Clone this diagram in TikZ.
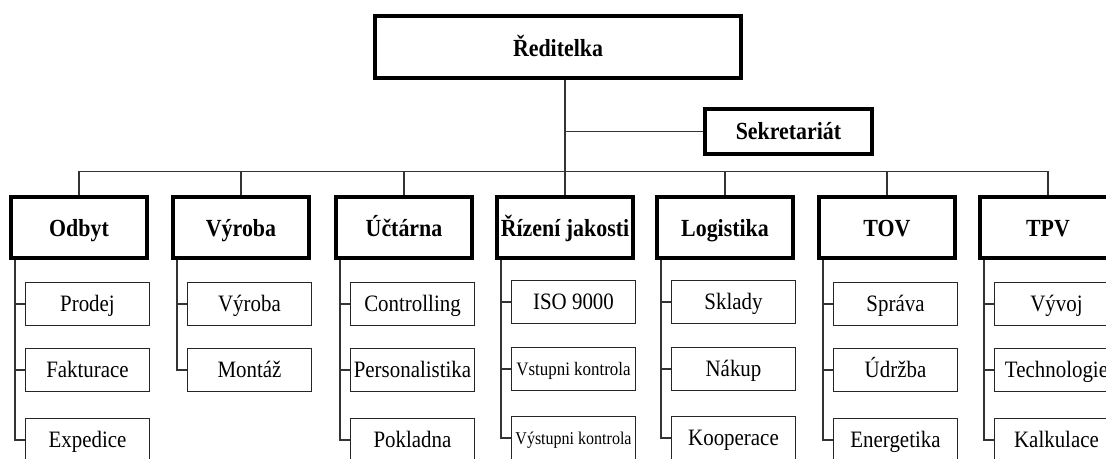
\documentclass[tikz,border=0pt]{standalone}
\usepackage{fontspec}
\setmainfont[FakeStretch=0.89]{Liberation Serif}
\usetikzlibrary{calc}
\begin{document}
\begin{tikzpicture}[x=1pt,y=-1pt,
  conn/.style={draw=black!80,line width=1.4pt},
  headbox/.style={draw=black,line width=4pt,fill=white,rectangle,inner sep=0pt,
    minimum width=136pt,minimum height=61pt,text height=17pt,text depth=0pt,
    font=\fontsize{24.6}{26}\selectfont\bfseries},
  subbox/.style={draw=black!85,line width=1.3pt,fill=white,rectangle,inner sep=0pt,
    minimum width=123.7pt,minimum height=42.7pt,text height=14pt,text depth=0pt,
    font=\fontsize{23.5}{25}\selectfont}]
\clip (0,0) rectangle (1106,458);
\fill[white] (0,0) rectangle (1106,458);

% top
\node[headbox,minimum width=366pt,minimum height=62pt,text height=19pt] (red) at (558,47) {Ředitelka};
\node[headbox,minimum width=167pt,minimum height=45pt,text height=15pt] (sekr) at (788.5,131.5) {Sekretariát};

% departments
\node[headbox] (odbyt) at (79,227.5) {Odbyt};
\node[headbox] (vyroba) at (241,227.5) {Výroba};
\node[headbox] (uctarna) at (404,227.5) {Účtárna};
\node[headbox] (rizeni) at (565,227.5) {Řízení jakosti};
\node[headbox] (logist) at (725,227.5) {Logistika};
\node[headbox] (tov) at (887,227.5) {TOV};
\node[headbox] (tpv) at (1048,227.5) {TPV};

% sub units
\node[subbox] (odbyt1) at (87.5,304) {Prodej};
\node[subbox] (odbyt2) at (87.5,370) {Fakturace};
\node[subbox] (odbyt3) at (87.5,440) {Expedice};

\node[subbox] (vyroba1) at (249.5,304) {Výroba};
\node[subbox] (vyroba2) at (249.5,370) {Montáž};

\node[subbox] (uctarna1) at (412.5,304) {Controlling};
\node[subbox] (uctarna2) at (412.5,370) {Personalistika};
\node[subbox] (uctarna3) at (412.5,440) {Pokladna};

\node[subbox] (rizeni1) at (573.5,302) {ISO 9000};
\node[subbox,font=\fontsize{19}{21}\selectfont,text height=12pt] (rizeni2) at (573.5,369) {Vstupni kontrola};
\node[subbox,font=\fontsize{18}{20}\selectfont,text height=12pt] (rizeni3) at (573.5,438) {Výstupni kontrola};

\node[subbox] (logist1) at (733.5,302) {Sklady};
\node[subbox] (logist2) at (733.5,369) {Nákup};
\node[subbox] (logist3) at (733.5,438) {Kooperace};

\node[subbox] (tov1) at (895.5,304) {Správa};
\node[subbox] (tov2) at (895.5,370) {Údržba};
\node[subbox] (tov3) at (895.5,440) {Energetika};

\node[subbox] (tpv1) at (1056.5,304) {Vývoj};
\node[subbox] (tpv2) at (1056.5,370) {Technologie};
\node[subbox] (tpv3) at (1056.5,440) {Kalkulace};

% top connectors
\coordinate (bus) at (0,171.5);
\draw[conn] (rizeni.north |- red.south) -- (rizeni.north);
\draw[conn] (sekr.west) -- (sekr.west -| rizeni.north);
\draw[conn] (odbyt.north) -- (odbyt.north |- bus) -- (tpv.north |- bus) -- (tpv.north);
\foreach \d in {vyroba,uctarna,logist,tov}
  \draw[conn] (\d.north) -- (\d.north |- bus);

% spines
\foreach \d/\n in {odbyt/3,uctarna/3,rizeni/3,logist/3,tov/3,tpv/3,vyroba/2}{
  \coordinate (\d S) at ($(\d.south west)+(6,0)$);
  \draw[conn] (\d S) |- (\d\n.west);
  \foreach \k in {1,...,\n}
    \draw[conn] (\d\k.west) -- (\d\k.west -| \d S);
}
\end{tikzpicture}
\end{document}
